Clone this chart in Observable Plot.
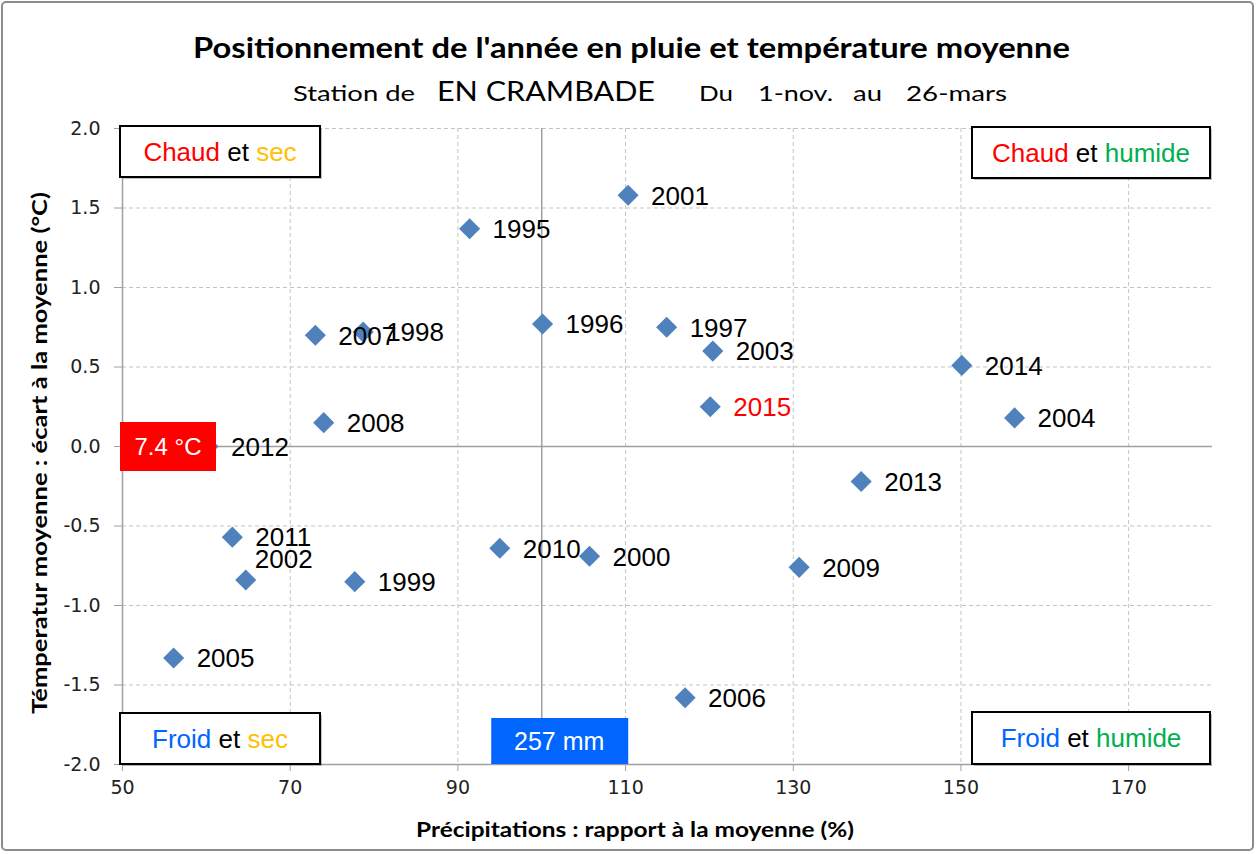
<!DOCTYPE html>
<html>
<head>
<meta charset="utf-8">
<script src="https://cdn.jsdelivr.net/npm/d3@7"></script>
<script src="https://cdn.jsdelivr.net/npm/@observablehq/plot@0.6"></script>
<style>
  html, body { margin: 0; padding: 0; background: #fff; }
  #wrap { position: relative; width: 1258px; height: 854px; overflow: hidden; background: #fff; }
  #border { position: absolute; left: 1px; top: 1px; width: 1253px; height: 850px; border: 2px solid #8c8c8c; border-radius: 5px; box-sizing: border-box; }
  #header { position: absolute; left: 0; top: 0; }
  #chart { position: absolute; left: 0; top: 110px; }
</style>
</head>
<body>
<div id="wrap">
  <div id="border"></div>
  <svg id="header" width="1258" height="110" font-family="Lato, 'Liberation Sans', sans-serif" text-anchor="start">
    <text x="193" y="58" font-size="28" font-weight="bold" textLength="877" lengthAdjust="spacingAndGlyphs">Positionnement de l'année en pluie et température moyenne</text>
    <text x="293" y="101" font-size="22" textLength="122" lengthAdjust="spacingAndGlyphs">Station de</text>
    <text x="437" y="101" font-size="26" textLength="218" lengthAdjust="spacingAndGlyphs">EN CRAMBADE</text>
    <text x="699" y="101" font-size="22" textLength="34" lengthAdjust="spacingAndGlyphs">Du</text>
    <text x="758" y="101" font-size="22" textLength="75" lengthAdjust="spacingAndGlyphs">1-nov.</text>
    <text x="853" y="101" font-size="22" textLength="29" lengthAdjust="spacingAndGlyphs">au</text>
    <text x="906" y="101" font-size="22" textLength="101" lengthAdjust="spacingAndGlyphs">26-mars</text>
  </svg>
  <div id="chart"></div>
</div>
<script>
// ---- data ----
const years = [1995, 1996, 1997, 1998, 1999, 2000, 2001, 2002, 2003, 2004, 2005, 2006, 2007, 2008, 2009, 2010, 2011, 2012, 2013, 2014, 2015];
const rainPct = [91.4, 100.1, 114.9, 78.7, 77.7, 105.7, 110.3, 64.7, 120.4, 156.4, 56.1, 117.1, 73.0, 74.0, 130.7, 95.0, 63.1, 60.2, 138.1, 150.1, 120.1];
const tempDev = [1.37, 0.77, 0.75, 0.72, -0.85, -0.69, 1.58, -0.84, 0.60, 0.18, -1.33, -1.58, 0.70, 0.15, -0.76, -0.64, -0.57, 0.00, -0.22, 0.51, 0.25];
const currentYear = 2015;
const xTicks = [50, 70, 90, 110, 130, 150, 170];
const yTicks = [-2.0, -1.5, -1.0, -0.5, 0.0, 0.5, 1.0, 1.5, 2.0];
const xDomain = [50, 180];
const yDomain = [-2, 2];
const meanRainValue = 100;
const meanTempValue = 0;
const meanTempLabel = "7.4 °C";
const meanRainLabel = "257 mm";
const xTitle = "Précipitations : rapport à la moyenne (%)";
const yTitle = "Témperatur moyenne : écart à la moyenne (°C)";
const quadrantHotDry = ["Chaud", "et", "sec"];
const quadrantHotWet = ["Chaud", "et", "humide"];
const quadrantColdDry = ["Froid", "et", "sec"];
const quadrantColdWet = ["Froid", "et", "humide"];

const data = years.map((y, i) => ({year: y, x: rainPct[i], y: tempDev[i]}));
const mainLabels = data.filter(d => d.year !== 2002);
const offLabels = data.filter(d => d.year === 2002);

const gridColor = "#c3c3c3";
const axisColor = "#a0a0a0";
const labelFont = "Liberation Sans, Arial, sans-serif";

const plot = Plot.plot({
  width: 1258,
  height: 744,
  marginLeft: 122,
  marginRight: 46,
  marginTop: 18,
  marginBottom: 90,
  style: {fontFamily: "DejaVu Sans, sans-serif", fontSize: "19px", color: "#222", background: "transparent"},
  x: {domain: xDomain, ticks: xTicks},
  y: {domain: yDomain, ticks: yTicks},
  marks: [
    Plot.gridX(xTicks.filter(v => v !== xDomain[0] && v !== meanRainValue), {stroke: gridColor, strokeOpacity: 1, strokeDasharray: "4,3"}),
    Plot.gridY(yTicks.filter(v => v !== yDomain[0] && v !== meanTempValue), {stroke: gridColor, strokeOpacity: 1, strokeDasharray: "4,3"}),
    Plot.ruleX([meanRainValue], {stroke: axisColor, strokeWidth: 1.5}),
    Plot.ruleY([meanTempValue], {stroke: axisColor, strokeWidth: 1.5}),
    Plot.ruleX([xDomain[0]], {stroke: axisColor, strokeWidth: 1.5}),
    Plot.ruleY([yDomain[0]], {stroke: axisColor, strokeWidth: 1.5}),
    Plot.axisX({ticks: xTicks, tickSize: 7, tickPadding: 9, stroke: axisColor, tickFormat: d => String(d), label: null, fontSize: 19}),
    Plot.axisY({ticks: yTicks, tickSize: 8, tickPadding: 14, stroke: axisColor, tickFormat: d => d.toFixed(1), label: null, fontSize: 19}),
    Plot.dot(data, {x: "x", y: "y", symbol: "diamond2", r: 9.5, fill: "#4f81bd", stroke: "none"}),
    Plot.text(mainLabels, {x: "x", y: "y", text: d => String(d.year), textAnchor: "start", dx: 23, dy: 1,
      fill: d => d.year === currentYear ? "#ff0000" : "#000", fontSize: 26, fontFamily: labelFont}),
    Plot.text(offLabels, {x: "x", y: "y", text: d => String(d.year), textAnchor: "start", dx: 9, dy: -20,
      fill: "#000", fontSize: 26, fontFamily: labelFont})
  ]
});

document.getElementById("chart").appendChild(plot);

// ---- annotations anchored to the plot frame ----
const sx = plot.scale("x"), sy = plot.scale("y");
const svg = d3.select(plot);
const fLeft = sx.apply(xDomain[0]), fRight = sx.apply(xDomain[1]);
const fTop = sy.apply(yDomain[1]), fBottom = sy.apply(yDomain[0]);
const colors = {Chaud: "#ff0000", Froid: "#0066ff", sec: "#ffc000", humide: "#00b050", et: "#000"};

function quadBox(words, x0, y0, w, h) {
  const g = svg.append("g");
  g.append("rect").attr("x", x0 + 2).attr("y", y0 + 2).attr("width", w).attr("height", h).attr("fill", "#777").attr("opacity", 0.45);
  g.append("rect").attr("x", x0).attr("y", y0).attr("width", w).attr("height", h)
    .attr("fill", "#fff").attr("stroke", "#000").attr("stroke-width", 2);
  const t = g.append("text").attr("x", x0 + w / 2).attr("y", y0 + h / 2).attr("dy", "0.36em")
    .attr("text-anchor", "middle").attr("font-family", labelFont).attr("font-size", 26);
  words.forEach((wd, i) => {
    t.append("tspan").text((i ? " " : "") + wd).attr("fill", colors[wd] || "#000");
  });
}
quadBox(quadrantHotDry, fLeft - 2, fTop - 2, 200, 51);
quadBox(quadrantHotWet, fRight - 240, fTop - 1, 238, 51);
quadBox(quadrantColdDry, fLeft - 2, fBottom - 51, 200, 51);
quadBox(quadrantColdWet, fRight - 240, fBottom - 52, 238, 52);

// mean temperature box (on y = mean)
const yMean = sy.apply(meanTempValue);
svg.append("rect").attr("x", fLeft - 2).attr("y", yMean - 24).attr("width", 96).attr("height", 49).attr("fill", "#ff0000");
svg.append("text").attr("x", fLeft - 2 + 48).attr("y", yMean).attr("dy", "0.36em").attr("text-anchor", "middle")
  .attr("fill", "#fff").attr("font-family", labelFont).attr("font-size", 24).text(meanTempLabel);

// mean rainfall box (on x = mean)
const xMean = sx.apply(meanRainValue);
svg.append("rect").attr("x", xMean - 50).attr("y", fBottom - 46).attr("width", 137).attr("height", 46).attr("fill", "#0066ff");
svg.append("text").attr("x", xMean - 50 + 68).attr("y", fBottom - 23).attr("dy", "0.36em").attr("text-anchor", "middle")
  .attr("fill", "#fff").attr("font-family", labelFont).attr("font-size", 25).text(meanRainLabel);

// axis titles
svg.append("text").attr("x", 416).attr("y", fBottom + 73).attr("text-anchor", "start")
  .attr("font-family", "Lato, sans-serif").attr("font-weight", "bold")
  .attr("font-size", 21).attr("fill", "#000").attr("textLength", 438).attr("lengthAdjust", "spacingAndGlyphs").text(xTitle);
svg.append("text").attr("transform", `translate(47,${fBottom - 50}) rotate(-90)`).attr("text-anchor", "start")
  .attr("font-family", "Lato, sans-serif").attr("font-weight", "bold")
  .attr("font-size", 21).attr("fill", "#000").attr("textLength", 522).attr("lengthAdjust", "spacingAndGlyphs").text(yTitle);
</script>
</body>
</html>
